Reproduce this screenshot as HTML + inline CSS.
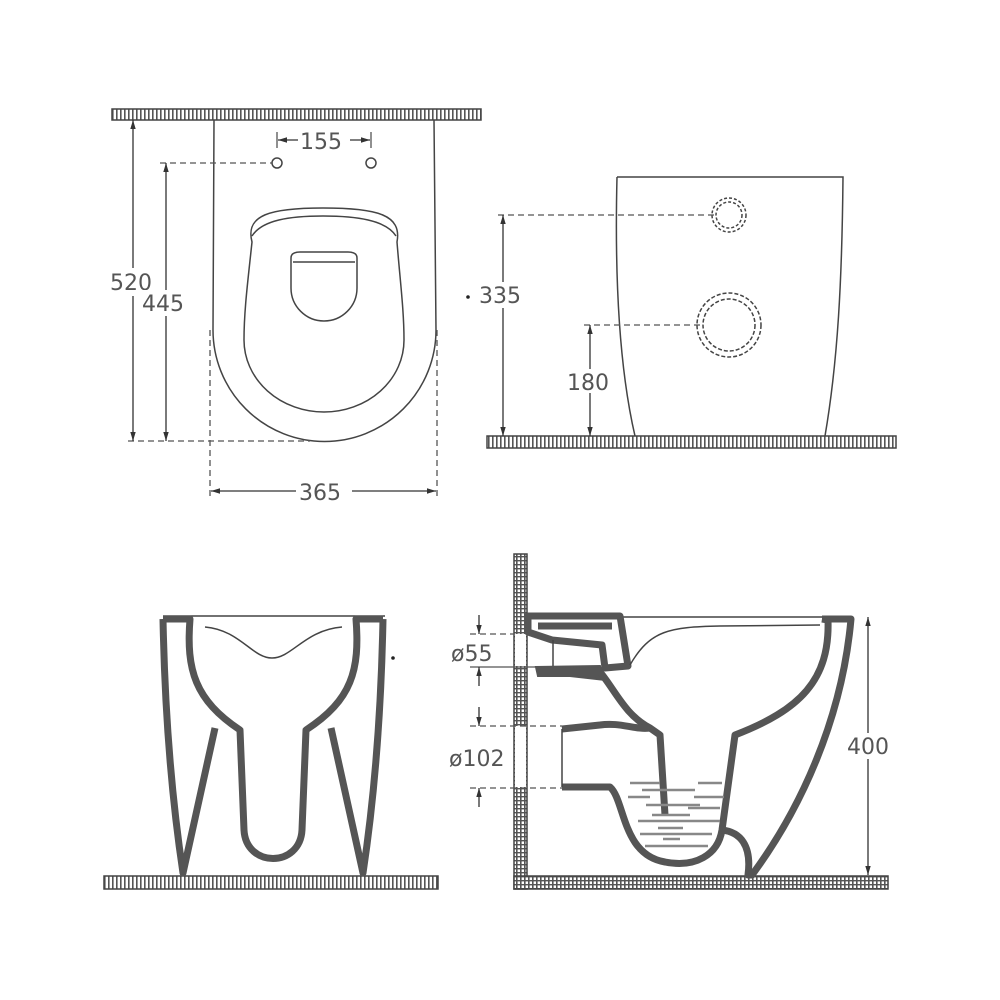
<!DOCTYPE html>
<html><head><style>
html,body{margin:0;padding:0;background:#fff;}
svg{display:block;}
text{font-family:"DejaVu Sans","Liberation Sans",sans-serif;fill:#555;font-size:22px;}
</style></head><body>
<svg width="1000" height="1000" viewBox="0 0 1000 1000" xmlns="http://www.w3.org/2000/svg">
<defs>
<pattern id="hv" width="4" height="4" patternUnits="userSpaceOnUse">
<rect width="4" height="4" fill="#fff"/><rect width="1.6" height="4" fill="#555"/></pattern>
<pattern id="hg" width="4" height="4" patternUnits="userSpaceOnUse">
<rect width="4" height="4" fill="#fff"/><rect width="1.6" height="4" fill="#555"/><rect width="4" height="1.4" fill="#555"/></pattern>
<marker id="ar" viewBox="0 0 10 10" refX="10" refY="5" markerWidth="7" markerHeight="7" orient="auto-start-reverse"><path d="M0,2 L10,5 L0,8z" fill="#333"/></marker>
</defs>

<!-- TOP LEFT -->
<rect x="112" y="109" width="369" height="11" fill="url(#hv)" stroke="#444" stroke-width="1.5"/>
<g fill="none" stroke="#444" stroke-width="1.5">
<path d="M214,120 L213,330 A111,111 0 0 0 436,330 L434,120"/>
<path d="M252,242 C245,215 270,208 323,208 C378,208 402,215 397,242 C400,280 404,310 404,340 A80,72 0 0 1 244,340 C244,310 248,280 252,242Z"/>
<path d="M252,236 C262,220 290,216 323,216 C356,216 386,220 396,236"/>
<path d="M291,258 Q291,252 300,252 L348,252 Q357,252 357,258 L357,288 A33,33 0 0 1 291,288Z"/>
<path d="M293,262 L355,262"/>
<circle cx="277" cy="163" r="5"/><circle cx="371" cy="163" r="5"/>
</g>
<g stroke="#555" stroke-width="1.3" fill="none">
<line x1="160" y1="163" x2="272" y2="163" stroke-dasharray="6,4"/>
<line x1="128" y1="441" x2="310" y2="441" stroke-dasharray="6,4"/>
<line x1="210" y1="330" x2="210" y2="497" stroke-dasharray="6,4"/>
<line x1="437" y1="330" x2="437" y2="497" stroke-dasharray="6,4"/>
<line x1="277" y1="132" x2="277" y2="148"/><line x1="371" y1="132" x2="371" y2="148"/>
</g>
<g stroke="#333" stroke-width="1.3">
<line x1="133" y1="120" x2="133" y2="441" marker-start="url(#ar)" marker-end="url(#ar)"/>
<line x1="166" y1="163" x2="166" y2="441" marker-start="url(#ar)" marker-end="url(#ar)"/>
<line x1="278" y1="140" x2="298" y2="140" marker-start="url(#ar)"/>
<line x1="350" y1="140" x2="370" y2="140" marker-end="url(#ar)"/>
<line x1="211" y1="491" x2="296" y2="491" marker-start="url(#ar)"/>
<line x1="352" y1="491" x2="436" y2="491" marker-end="url(#ar)"/>
</g>
<rect x="108" y="268" width="52" height="28" fill="#fff"/>
<text x="110" y="290">520</text>
<rect x="142" y="290" width="52" height="26" fill="#fff"/>
<text x="142" y="311">445</text>
<text x="300" y="149">155</text>
<rect x="298" y="480" width="54" height="24" fill="#fff"/>
<text x="299" y="500">365</text>

<!-- TOP RIGHT -->
<rect x="487" y="436" width="409" height="12" fill="url(#hv)" stroke="#444" stroke-width="1.5"/>
<g fill="none" stroke="#444" stroke-width="1.5">
<path d="M617,177 L843,177 C842,280 838,360 825,436"/>
<path d="M617,177 C614,300 622,380 635,436"/>
<circle cx="729" cy="215" r="17" stroke-dasharray="3,2"/>
<circle cx="729" cy="215" r="13" stroke-dasharray="3,2"/>
<circle cx="729" cy="325" r="32" stroke-dasharray="4,2"/>
<circle cx="729" cy="325" r="26" stroke-dasharray="4,2"/>
</g>
<g stroke="#555" stroke-width="1.3">
<line x1="498" y1="215" x2="715" y2="215" stroke-dasharray="6,4"/>
<line x1="584" y1="325" x2="700" y2="325" stroke-dasharray="6,4"/>
</g>
<g stroke="#333" stroke-width="1.3">
<line x1="503" y1="215" x2="503" y2="436" marker-start="url(#ar)" marker-end="url(#ar)"/>
<line x1="590" y1="325" x2="590" y2="436" marker-start="url(#ar)" marker-end="url(#ar)"/>
</g>
<circle cx="468" cy="297" r="1.8" fill="#222"/>
<rect x="478" y="282" width="52" height="26" fill="#fff"/>
<text x="479" y="303">335</text>
<rect x="566" y="369" width="48" height="24" fill="#fff"/>
<text x="567" y="390">180</text>

<!-- BOTTOM LEFT -->
<rect x="104" y="876" width="334" height="13" fill="url(#hv)" stroke="#444" stroke-width="1.5"/>
<line x1="163" y1="616" x2="385" y2="616" stroke="#444" stroke-width="1.5"/>
<g fill="none" stroke="#555" stroke-width="7" stroke-linejoin="round">
<path d="M163,619 L190,619 C186,670 195,700 240,730 L244,830 C246,868 300,868 302,830 L306,730 C352,700 360,670 356,619 L383,619"/>
<path d="M163,619 C165,720 172,800 183,873 L215,728"/>
<path d="M383,619 C381,720 374,800 363,873 L331,728"/>
</g>
<path d="M205,627 C240,630 252,658 272,658 C292,658 305,630 342,627" fill="none" stroke="#444" stroke-width="1.5"/>
<circle cx="393" cy="658" r="1.8" fill="#222"/>

<!-- BOTTOM RIGHT -->
<rect x="514" y="554" width="13" height="335" fill="url(#hg)" stroke="#444" stroke-width="1.5"/>
<rect x="515" y="634" width="11" height="32" fill="#fff"/>
<rect x="515" y="726" width="11" height="61" fill="#fff"/>
<rect x="514" y="876" width="374" height="13" fill="url(#hg)" stroke="#444" stroke-width="1.5"/>
<line x1="527" y1="617" x2="853" y2="617" stroke="#444" stroke-width="1.5"/>
<g fill="#555" stroke="#555" stroke-width="2">
<path d="M528,616 L620,616 L628,666 L605,668 L602,645 L552,640 L528,632Z" fill="#fff" stroke-width="7" stroke-linejoin="round"/>
<path d="M536,667 L600,666 L605,680 L570,676 L538,676Z"/>
</g>
<g fill="none" stroke="#555" stroke-width="7" stroke-linejoin="round">
<path d="M538,626 L612,626"/>
<path d="M600,672 C615,690 625,715 650,728 L660,735 L665,815"/>
<path d="M562,729 L600,725 C620,722 635,730 650,728"/>
<path d="M562,787 L610,787 C625,800 622,855 665,862 C695,868 718,855 722,830 L735,735 C800,710 830,680 828,620 L822,619"/>
<path d="M822,619 L851,619 C842,720 800,810 752,875 L748,875 C752,845 740,832 722,830"/>
</g>
<path d="M630,665 C650,630 670,627 720,626 L820,625" fill="none" stroke="#444" stroke-width="1.5"/>
<line x1="562" y1="729" x2="562" y2="787" stroke="#444" stroke-width="1.5"/>
<line x1="553" y1="640" x2="553" y2="666" stroke="#444" stroke-width="1.5"/>
<g stroke="#888" stroke-width="2.5">
<line x1="630" y1="783" x2="660" y2="783"/><line x1="698" y1="783" x2="722" y2="783"/>
<line x1="642" y1="790" x2="695" y2="790"/>
<line x1="628" y1="797" x2="650" y2="797"/><line x1="694" y1="797" x2="724" y2="797"/>
<line x1="646" y1="805" x2="700" y2="805"/>
<line x1="688" y1="808" x2="720" y2="808"/>
<line x1="652" y1="815" x2="690" y2="815"/>
<line x1="638" y1="821" x2="720" y2="821"/>
<line x1="658" y1="828" x2="683" y2="828"/>
<line x1="640" y1="834" x2="712" y2="834"/>
<line x1="663" y1="839" x2="680" y2="839"/>
<line x1="645" y1="846" x2="708" y2="846"/>
</g>
<g stroke="#555" stroke-width="1.3">
<line x1="470" y1="634" x2="514" y2="634" stroke-dasharray="6,4"/>
<line x1="470" y1="667" x2="536" y2="667"/>
<line x1="470" y1="726" x2="562" y2="726" stroke-dasharray="6,4"/>
<line x1="470" y1="788" x2="562" y2="788" stroke-dasharray="6,4"/>
</g>
<g stroke="#333" stroke-width="1.3">
<line x1="479" y1="615" x2="479" y2="634" marker-end="url(#ar)"/>
<line x1="479" y1="686" x2="479" y2="667" marker-end="url(#ar)"/>
<line x1="479" y1="707" x2="479" y2="726" marker-end="url(#ar)"/>
<line x1="479" y1="807" x2="479" y2="788" marker-end="url(#ar)"/>
<line x1="868" y1="617" x2="868" y2="875" marker-start="url(#ar)" marker-end="url(#ar)"/>
</g>
<text x="451" y="661">ø55</text>
<text x="449" y="766">ø102</text>
<rect x="846" y="733" width="46" height="26" fill="#fff"/>
<text x="847" y="754">400</text>
</svg>
</body></html>
